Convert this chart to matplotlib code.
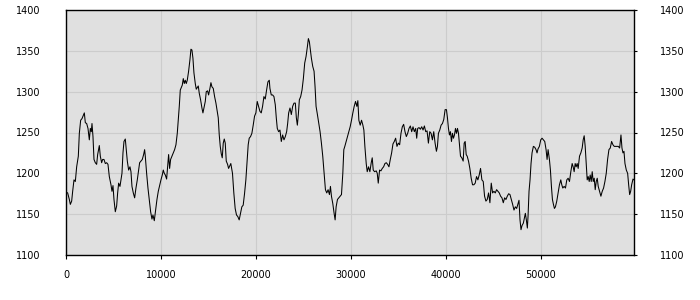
import matplotlib
matplotlib.use("Agg")
import matplotlib.pyplot as plt

x_vals = [
    0, 175, 351, 456, 597, 702, 842, 983, 1123, 1298, 1404, 1544, 1684, 1825, 1930,
    2035, 2176, 2316, 2456, 2562, 2667, 2737, 2842, 2948, 3088, 3228, 3334, 3509, 3614,
    3755, 3860, 4000, 4141, 4281, 4421, 4562, 4737, 4842, 4948, 5053, 5193, 5334, 5439,
    5544, 5685, 5790, 5895, 6000, 6106, 6246, 6316, 6457, 6597, 6737, 6843, 6948, 7088,
    7229, 7369, 7509, 7650, 7755, 7895, 8036, 8176, 8281, 8351, 8492, 8632, 8773, 8913,
    9053, 9158, 9299, 9439, 9580, 9720, 9860, 10001, 10141, 10246, 10352, 10457, 10597,
    10702, 10808, 10913, 11018, 11159, 11299, 11439, 11580, 11720, 11825, 11931, 12036,
    12141, 12246, 12352, 12457, 12562, 12667, 12773, 12913, 13053, 13159, 13264, 13369,
    13475, 13615, 13720, 13825, 13931, 14036, 14176, 14317, 14422, 14527, 14668, 14773,
    14913, 15019, 15159, 15264, 15369, 15510, 15650, 15791, 15931, 16036, 16141, 16247,
    16352, 16457, 16562, 16668, 16773, 16878, 17019, 17124,
    17359, 17535, 17676, 17817, 17958, 18099, 18240, 18380, 18521, 18662, 18803, 18944,
    19085, 19190, 19296, 19437, 19577, 19718, 19859, 20000, 20141, 20282, 20423, 20563,
    20704, 20845, 20986, 21127, 21268, 21408, 21479, 21620, 21761, 21901, 22042, 22148,
    22253, 22394, 22535, 22676, 22817, 22958, 23099, 23239, 23345, 23451, 23592, 23732,
    23873, 24014, 24155, 24261, 24366, 24472, 24577, 24718, 24859, 25000, 25141, 25282,
    25423, 25528, 25634, 25739, 25845, 25986, 26127, 26232, 26338, 26479, 26620, 26760,
    26901, 27042, 27183, 27324, 27465, 27605, 27746, 27852, 27958, 28099, 28239, 28345,
    28451, 28592, 28732, 28873, 29014, 29155, 29260, 29366, 29507, 29648, 29789, 29929,
    30070, 30211, 30352, 30493, 30634, 30739, 30845, 30986, 31127, 31268, 31373, 31479,
    31620, 31725, 31866, 32007, 32148, 32253, 32359, 32500, 32676, 32782, 32887, 33028,
    33169, 33310, 33451, 33591, 33732, 33873, 34014, 34155, 34296, 34437, 34577, 34718,
    34859, 35000, 35141, 35282, 35423, 35563, 35704, 35845, 35986, 36127, 36268, 36409,
    36549, 36690, 36831, 36937, 37042, 37183, 37324, 37465, 37606, 37746, 37887, 38028,
    38169, 38310, 38451, 38592, 38732, 38873, 39014, 39120, 39225, 39366, 39507, 39648,
    39789, 39930, 40070, 40176, 40282, 40387, 40493, 40599, 40704, 40810, 40915, 41021,
    41127, 41232, 41338,
    41550, 41690, 41831, 41937, 42042, 42148, 42254, 42394, 42535, 42676, 42817, 42958,
    43099, 43239, 43380, 43521, 43662, 43803, 43944, 44085, 44226, 44366, 44507, 44648,
    44789, 44930, 45071, 45212, 45352, 45493, 45634, 45775, 45916, 46057, 46198, 46338,
    46479, 46620, 46761, 46902, 47042, 47183, 47324, 47465, 47606, 47711, 47817, 47923,
    48028, 48169, 48275, 48380, 48486, 48592, 48662, 48768, 48873, 48979, 49085, 49225,
    49366, 49507, 49613, 49718, 49859, 50000, 50141, 50282, 50423, 50563, 50669, 50775,
    50915, 51021, 51127, 51232, 51338, 51444, 51549, 51690, 51831, 51972, 52113, 52218,
    52324, 52465, 52606, 52746, 52887, 53028, 53169, 53310, 53415, 53521, 53627, 53732,
    53838, 53944, 54085, 54225, 54366, 54472, 54577, 54683, 54789, 54894, 55000, 55106,
    55211, 55317, 55423, 55528, 55634, 55739, 55845, 55951, 56056, 56197, 56338, 56479,
    56620, 56761, 56901, 57042, 57183, 57324, 57465, 57606, 57746, 57887, 58028, 58169,
    58310, 58451, 58556, 58662, 58768, 58873, 59014, 59155, 59261, 59366, 59472, 59577,
    59718, 59824,
]

y_vals = [
    1177, 1176, 1168, 1162, 1166, 1178, 1192, 1190, 1208, 1221, 1249, 1265, 1267, 1271, 1274,
    1262, 1261, 1255, 1241, 1255, 1251, 1261, 1245, 1217, 1213, 1211, 1223, 1234, 1221,
    1213, 1217, 1217, 1212, 1213, 1211, 1196, 1186, 1178, 1185, 1168, 1153, 1160, 1176,
    1188, 1184, 1192, 1200, 1225, 1239, 1242, 1233, 1215, 1204, 1208, 1202, 1184, 1176,
    1170, 1182, 1192, 1204, 1213, 1215, 1217, 1223, 1229, 1221, 1200, 1182, 1168, 1153,
    1144, 1149, 1142, 1155, 1168, 1178, 1185, 1192, 1198, 1204, 1200, 1198, 1193,
    1208, 1223, 1206, 1217, 1221, 1225, 1229, 1235, 1249, 1265, 1282, 1302,
    1305, 1308, 1316, 1310, 1314, 1310, 1314, 1325, 1339, 1352, 1351, 1341,
    1323, 1310, 1303, 1305, 1307, 1298, 1290, 1280, 1274, 1280, 1288, 1300,
    1301, 1296, 1304, 1311, 1306, 1304, 1294, 1286, 1276, 1268, 1247, 1233,
    1224, 1219, 1237, 1242, 1237, 1215, 1211, 1206,
    1212, 1200, 1176, 1157, 1149, 1147, 1143, 1151, 1159, 1161, 1175, 1192,
    1217, 1235, 1243, 1245, 1249, 1259, 1270, 1274, 1288, 1282, 1276, 1274,
    1282, 1294, 1291, 1302, 1312, 1314, 1304, 1296, 1296, 1294, 1284, 1268,
    1255, 1251, 1253, 1239, 1247, 1241, 1245, 1251, 1261, 1274, 1280, 1272,
    1282, 1286, 1286, 1268, 1259, 1272, 1290, 1294, 1302, 1316, 1335, 1343,
    1355, 1365, 1361, 1351, 1341, 1331, 1325, 1306, 1282, 1272, 1261, 1251,
    1237, 1221, 1200, 1180, 1176, 1180, 1174, 1184, 1172, 1163, 1151, 1143,
    1159, 1168, 1170, 1172, 1174, 1200, 1229, 1233, 1239, 1245, 1251, 1257,
    1265, 1274, 1282, 1288, 1282, 1289, 1265, 1259, 1265, 1259, 1253, 1233,
    1212, 1202, 1208, 1202, 1213, 1219, 1204, 1202, 1203, 1200, 1188, 1204,
    1203, 1206, 1208, 1212, 1213, 1211, 1208, 1217, 1225, 1236, 1239, 1243,
    1233, 1237, 1235, 1249, 1257, 1260, 1251, 1245, 1249, 1255, 1258, 1251,
    1257, 1251, 1255, 1243, 1255, 1256, 1254, 1257, 1253, 1258, 1251, 1252,
    1237, 1251, 1249, 1241, 1251, 1237, 1227, 1233, 1249, 1253, 1259, 1261,
    1266, 1278, 1278, 1268, 1255, 1247, 1251, 1239, 1249, 1243, 1247, 1255,
    1249, 1255, 1249,
    1221, 1219, 1215, 1237, 1239, 1223, 1221, 1215, 1206, 1194, 1186, 1186,
    1188, 1196, 1192, 1198, 1206, 1192, 1190, 1172, 1166, 1168, 1176, 1164,
    1188, 1176, 1178, 1176, 1180, 1178, 1176, 1172, 1170, 1164, 1170, 1168,
    1172, 1175, 1174, 1168, 1162, 1155, 1159, 1157, 1163, 1167, 1143, 1131,
    1136, 1139, 1145, 1151, 1143, 1133, 1147, 1178, 1192, 1212, 1225, 1233,
    1232, 1229, 1225, 1230, 1233, 1241, 1243, 1241, 1239, 1229, 1217, 1229,
    1217, 1204, 1184, 1168, 1162, 1157, 1159, 1166, 1176, 1186, 1192, 1186,
    1182, 1184, 1182, 1192, 1194, 1190, 1202, 1212, 1208, 1202, 1212, 1208,
    1212, 1206, 1221, 1225, 1231, 1241, 1246, 1233, 1212, 1192, 1196, 1190,
    1198, 1190, 1202, 1190, 1194, 1180, 1190, 1194, 1184, 1178, 1172, 1178,
    1182, 1190, 1200, 1217, 1229, 1231, 1239, 1235, 1233, 1233, 1233, 1233,
    1231, 1247, 1231, 1225, 1227, 1212, 1204, 1200, 1186, 1174, 1178, 1186,
    1193, 1192,
]

x_ticks = [0, 10000, 20000, 30000, 40000, 50000]
y_ticks = [1100, 1150, 1200, 1250, 1300, 1350, 1400]

fig = plt.figure(figsize=(7, 3), dpi=100)
ax = fig.add_axes([66 / 700, 45 / 300, 568 / 700, 245 / 300])
ax.set_facecolor("#e0e0e0")
ax.plot(x_vals, y_vals, color="black", lw=0.75, zorder=3)
ax.set_xlim(0, 59824)
ax.set_ylim(1100, 1400)
ax.set_xticks(x_ticks)
ax.set_yticks(y_ticks)
ax.grid(True, color="#cccccc", lw=0.8, zorder=1)
ax.set_axisbelow(True)
for s in ax.spines.values():
    s.set_color("black")
    s.set_linewidth(1.0)
ax.tick_params(axis="x", direction="out", length=3, width=0.8, pad=8, labelsize=7)
ax.tick_params(axis="y", left=False, right=True, labelleft=True, labelright=True,
               direction="out", length=2.5, width=0.8, pad=16, labelsize=7)
fig.savefig("out.png", dpi=100)
